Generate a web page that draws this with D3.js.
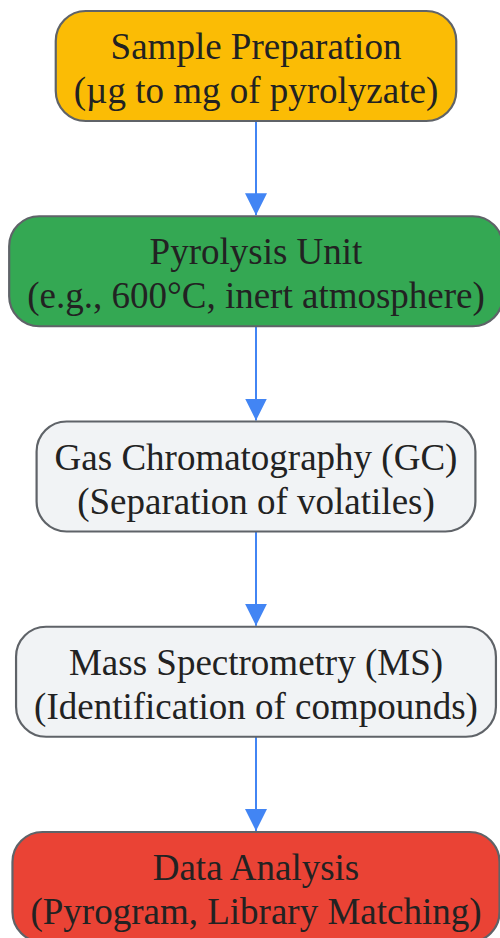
<!DOCTYPE html>
<html>
<head>
<meta charset="utf-8">
<script src="https://cdn.jsdelivr.net/npm/d3@7"></script>
<style>
  html, body { margin: 0; padding: 0; background: #fff; }
  svg { display: block; }
</style>
</head>
<body>
<div class="flow"></div>
<script>
// steps of the pipeline, top to bottom
let titles = ["Sample Preparation", "Pyrolysis Unit", "Gas Chromatography (GC)", "Mass Spectrometry (MS)", "Data Analysis"];
let subtitles = ["(\u00b5g to mg of pyrolyzate)", "(e.g., 600\u00b0C, inert atmosphere)", "(Separation of volatiles)", "(Identification of compounds)", "(Pyrogram, Library Matching)"];
let fills = ["#fbbc05", "#34a853", "#f1f3f5", "#f1f3f5", "#ea4335"];
let links = [[0, 1], [1, 2], [2, 3], [3, 4]];

let width = 500;
let height = 938;
let boxH = 110;
let padX = 18;
let fontSize = 37;

let svg = d3.select(".flow")
  .append("svg")
  .attr("width", width)
  .attr("height", height);

let defs = svg.append("defs");
defs.append("marker")
  .attr("id", "arrow")
  .attr("viewBox", "0 0 10 10")
  .attr("refX", 10)
  .attr("refY", 5)
  .attr("markerUnits", "userSpaceOnUse")
  .attr("markerWidth", 22)
  .attr("markerHeight", 30)
  .attr("orient", "auto")
  .append("path")
  .attr("d", "M0,0 L10,5 L0,10 z")
  .attr("fill", "#4285f4");

let y = d3.scalePoint()
  .domain(d3.range(titles.length))
  .range([11, 832]);

let cx = 256;

let nodes = titles.map(function(t, i) {
  return { i: i, title: t, sub: subtitles[i], fill: fills[i] };
});

// measure text to size each box
let measure = svg.append("text")
  .attr("font-family", "'Liberation Serif', 'Times New Roman', serif")
  .attr("font-size", fontSize);
nodes.forEach(function(d) {
  measure.text(d.title);
  let w1 = measure.node().getComputedTextLength();
  measure.text(d.sub);
  let w2 = measure.node().getComputedTextLength();
  d.w = Math.max(w1, w2) + padX * 2;
});
measure.remove();

// edges
svg.selectAll(".link")
  .data(links)
  .enter().append("line")
  .attr("class", "link")
  .attr("x1", cx)
  .attr("x2", cx)
  .attr("y1", function(d) { return y(d[0]) + boxH; })
  .attr("y2", function(d) { return y(d[1]) - 1; })
  .attr("stroke", "#4285f4")
  .attr("stroke-width", 2)
  .attr("marker-end", "url(#arrow)");

let g = svg.selectAll(".node")
  .data(nodes)
  .enter().append("g")
  .attr("class", "node")
  .attr("transform", function(d) { return "translate(" + cx + "," + y(d.i) + ")"; });

g.append("rect")
  .attr("x", function(d) { return -d.w / 2; })
  .attr("y", 0)
  .attr("width", function(d) { return d.w; })
  .attr("height", boxH)
  .attr("rx", 30)
  .attr("ry", 30)
  .attr("fill", function(d) { return d.fill; })
  .attr("stroke", "#5f6368")
  .attr("stroke-width", 2.2);

g.append("text")
  .attr("text-anchor", "middle")
  .attr("font-family", "'Liberation Serif', 'Times New Roman', serif")
  .attr("font-size", fontSize)
  .attr("fill", "#222")
  .each(function(d) {
    let t = d3.select(this);
    t.append("tspan").attr("x", 0).attr("y", 48).text(d.title);
    t.append("tspan").attr("x", 0).attr("y", 92).text(d.sub);
  });
</script>
</body>
</html>
